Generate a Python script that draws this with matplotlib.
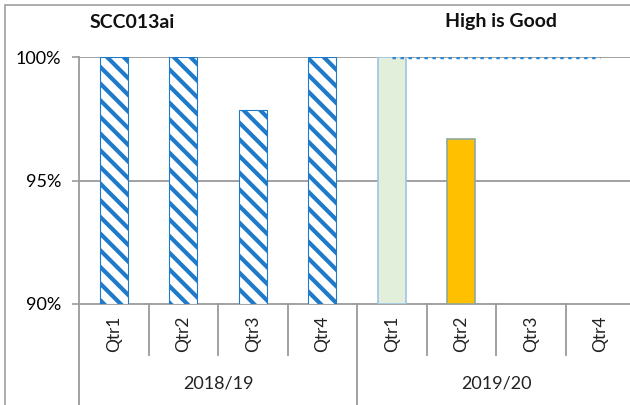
import numpy as np
import matplotlib.pyplot as plt
from matplotlib.patches import Rectangle

plt.rcParams['font.family'] = ['Lato', 'DejaVu Sans']
plt.rcParams['hatch.linewidth'] = 3.0
plt.rcParams['hatch.color'] = '#1F7BC9'

years = ['2018/19', '2019/20']
quarters = ['Qtr1', 'Qtr2', 'Qtr3', 'Qtr4']
prev_year = [100.0, 100.0, 97.85, 100.0]
this_year = [100.0, 96.7]
target = [100.0, 100.0, 100.0, 100.0]
bar_colors = ['#E2EFDA', '#FFC000']
bar_edges = ['#9DC3E6', '#8FA89A']

W, H = 630, 405
fig = plt.figure(figsize=(W / 100, H / 100), dpi=100)

# outer chart border (cropped at right and bottom)
fig.patches.append(Rectangle((5 / W, -0.1), 1.2, (H - 5) / H + 0.1,
                             transform=fig.transFigure, fill=False,
                             edgecolor='#A0A0A0', lw=1.2))

slot = 69.5
x0 = 79
ax = fig.add_axes([x0 / W, 1 - 304 / H, 8 * slot / W, (304 - 57) / H])
ax.set_xlim(0, 8)
ax.set_ylim(90, 100)

xs = np.arange(8) + 0.5
bw = 0.4
ax.bar(xs[:4], np.array(prev_year) - 90, bottom=90, width=bw, color='white',
       edgecolor='#1F7BC9', hatch='\\\\', lw=0.8, zorder=3)
ax.bar(xs[4:4 + len(this_year)], np.array(this_year) - 90, bottom=90, width=bw,
       color=bar_colors, edgecolor=bar_edges, lw=1.2, zorder=3)
ax.plot(xs[4:], target, ls=(0, (1, 1.3)), color='#2E86D0', lw=2.5, zorder=4)

for y in [95, 100]:
    ax.axhline(y, color='#9A9A9A', lw=1.3, zorder=1)
ax.set_yticks([90, 95, 100])
ax.set_yticklabels(['90%', '95%', '100%'], fontsize=13)
ax.tick_params(axis='y', length=5, color='#9A9A9A', width=1.2, pad=8)
ax.set_xticks([])
for s in ['top', 'right']:
    ax.spines[s].set_visible(False)
for s in ['left', 'bottom']:
    ax.spines[s].set_color('#9A9A9A')
    ax.spines[s].set_linewidth(1.3)

# category axis labels
for i in range(8):
    ax.text(xs[i], 88.8, quarters[i % 4], rotation=90, ha='center', va='center',
            fontsize=12.5, color='#222222')
for i in range(1, 8):
    ylow = 82.5 if i == 4 else 87.95
    ax.plot([i, i], [90, ylow], color='#9A9A9A', lw=1.3, clip_on=False)
ax.plot([0, 0], [90, 82.5], color='#9A9A9A', lw=1.3, clip_on=False)
for j, yr in enumerate(years):
    ax.text(2 + 4 * j, 86.8, yr, ha='center', va='center', fontsize=13,
            color='#222222')

fig.text(90 / W, 1 - 22 / H, 'SCC013ai', fontsize=14, fontweight='bold',
         va='center', ha='left', color='#111111')
fig.text(445 / W, 1 - 22 / H, 'High is Good', fontsize=14, fontweight='bold',
         va='center', ha='left', color='#111111')

fig.savefig('out.png', dpi=100)
